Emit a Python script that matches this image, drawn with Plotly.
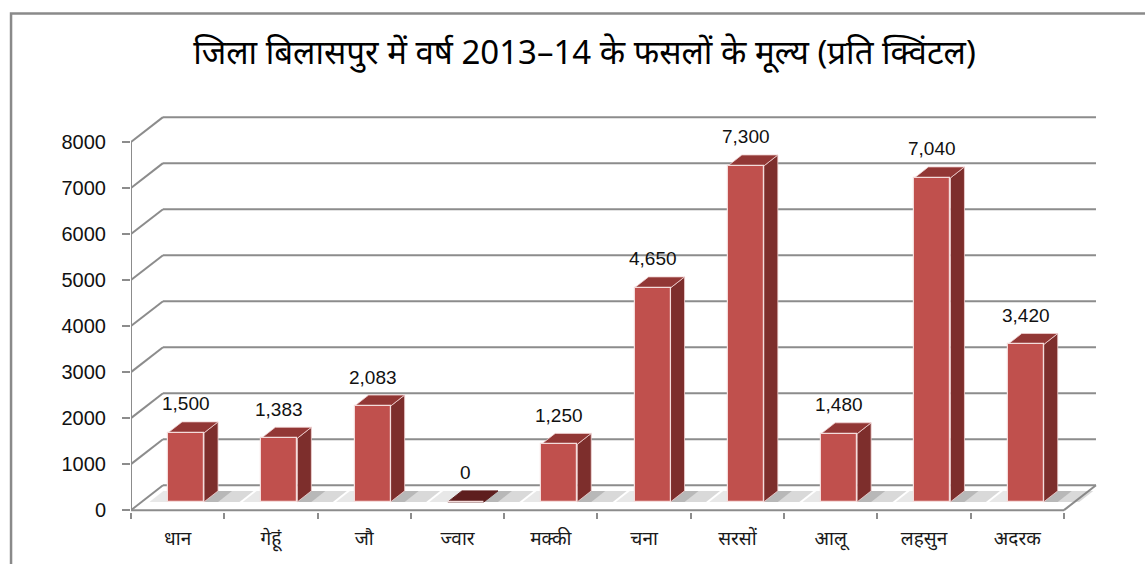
import plotly.graph_objects as go

# Crop prices, Bilaspur district, 2013-14 (Rs per quintal)
CATEGORIES = ["धान", "गेहूं", "जौ", "ज्वार", "मक्की", "चना", "सरसों", "आलू", "लहसुन", "अदरक"]
VALUES = [1500, 1383, 2083, 0, 1250, 4650, 7300, 1480, 7040, 3420]
Y_TICKS = [0, 1000, 2000, 3000, 4000, 5000, 6000, 7000, 8000]
TITLE = "जिला बिलासपुर में वर्ष 2013–14 के फसलों के मूल्य (प्रति क्विंटल)"

# pseudo-3D geometry, in axis units
WALL_DX, WALL_DY = 0.343, 540      # depth of floor / side wall
BAR_BASE = 180                     # bar front plane sits a little behind the front edge
BAR_OFF, BAR_W = -0.103, 0.386     # front face position relative to category centre
SIDE_DX, SIDE_DY = 0.15, 238       # bar depth

FRONT = "#C0504D"
SIDE = "#7D2E2C"
TOP = "#923735"
TOP_ZERO = "#5E1E1E"
GRID = "#8C8C8C"

x_pos = list(range(len(CATEGORIES)))
n = len(CATEGORIES)
x_left, x_right = -0.5, n - 0.5

fig = go.Figure()

shapes = []


def poly(pts):
    return "M " + " L ".join(f"{x},{y}" for x, y in pts) + " Z"


# back-wall gridlines with their slanted run along the left wall
for v in Y_TICKS:
    shapes.append(dict(type="line", xref="x", yref="y", layer="below",
                       x0=x_left, y0=v, x1=x_left + WALL_DX, y1=v + WALL_DY,
                       line=dict(color=GRID, width=2)))
    shapes.append(dict(type="line", xref="x", yref="y", layer="below",
                       x0=x_left + WALL_DX, y0=v + WALL_DY, x1=x_right + WALL_DX, y1=v + WALL_DY,
                       line=dict(color=GRID, width=2)))

# floor front and right edges, left front vertical axis
shapes.append(dict(type="line", xref="x", yref="y", layer="below",
                   x0=x_left, y0=0, x1=x_right, y1=0, line=dict(color=GRID, width=2)))
shapes.append(dict(type="line", xref="x", yref="y", layer="below",
                   x0=x_right, y0=0, x1=x_right + WALL_DX, y1=WALL_DY, line=dict(color=GRID, width=2)))
shapes.append(dict(type="line", xref="x", yref="y", layer="below",
                   x0=x_left, y0=0, x1=x_left, y1=Y_TICKS[-1], line=dict(color=GRID, width=2)))

# soft floor shadows around each bar foot
for i in x_pos:
    xl = i + BAR_OFF
    xr = xl + BAR_W
    shapes.append(dict(type="path", xref="x", yref="y", layer="below", line=dict(width=0),
                       fillcolor="rgba(150,150,150,0.22)",
                       path=poly([(xl - 0.2, BAR_BASE), (xl, BAR_BASE),
                                  (xl + SIDE_DX, BAR_BASE + SIDE_DY), (xl - 0.2 + SIDE_DX, BAR_BASE + SIDE_DY)])))
    shapes.append(dict(type="path", xref="x", yref="y", layer="below", line=dict(width=0),
                       fillcolor="rgba(130,130,130,0.30)",
                       path=poly([(xr, BAR_BASE), (xr + 0.38, BAR_BASE),
                                  (xr + 0.38 + SIDE_DX, BAR_BASE + SIDE_DY), (xr + SIDE_DX, BAR_BASE + SIDE_DY)])))
    shapes.append(dict(type="path", xref="x", yref="y", layer="below", line=dict(width=0),
                       fillcolor="rgba(110,110,110,0.30)",
                       path=poly([(xr, BAR_BASE), (xr + 0.15, BAR_BASE),
                                  (xr + 0.15 + SIDE_DX, BAR_BASE + SIDE_DY), (xr + SIDE_DX, BAR_BASE + SIDE_DY)])))

# bar side and top faces
for i, v in zip(x_pos, VALUES):
    xl = i + BAR_OFF
    xr = xl + BAR_W
    top = BAR_BASE + v
    if v > 0:
        shapes.append(dict(type="path", xref="x", yref="y", layer="below",
                           fillcolor=SIDE, line=dict(color="rgba(240,210,210,0.8)", width=1),
                           path=poly([(xr, BAR_BASE), (xr + SIDE_DX, BAR_BASE + SIDE_DY),
                                      (xr + SIDE_DX, top + SIDE_DY), (xr, top)])))
    shapes.append(dict(type="path", xref="x", yref="y", layer="below",
                       fillcolor=TOP if v > 0 else TOP_ZERO,
                       line=dict(color="rgba(240,210,210,0.8)" if v > 0 else TOP_ZERO, width=1),
                       path=poly([(xl, top), (xr, top), (xr + SIDE_DX, top + SIDE_DY),
                                  (xl + SIDE_DX, top + SIDE_DY)])))

# front faces
fig.add_trace(go.Bar(
    x=x_pos, y=VALUES, base=BAR_BASE, offset=BAR_OFF, width=BAR_W,
    marker=dict(color=FRONT, line=dict(color="#F4DCDB", width=1.2)),
    hoverinfo="skip", showlegend=False,
))

# invisible trace that carries the boundary tick axis
fig.add_trace(go.Scatter(x=[None], y=[None], xaxis="x2", yaxis="y", showlegend=False,
                         hoverinfo="skip"))

annotations = []
for i, v in zip(x_pos, VALUES):
    annotations.append(dict(
        x=i + BAR_OFF + BAR_W / 2, y=BAR_BASE + v + SIDE_DY, xref="x", yref="y",
        text=f"{v:,}", showarrow=False, yanchor="middle", yshift=18,
        font=dict(family="Liberation Sans, Arial, sans-serif", size=19, color="#111111"),
    ))

# outer chart frame
shapes.append(dict(type="rect", xref="paper", yref="paper", layer="above",
                   x0=-0.1238, y0=-0.15, x1=1.06, y1=1.2401,
                   line=dict(color="#8A8A8A", width=2.5), fillcolor="rgba(0,0,0,0)"))

fig.update_layout(
    width=1145, height=564,
    margin=dict(l=131, r=45, t=110, b=50),
    paper_bgcolor="white", plot_bgcolor="white",
    title=dict(text=TITLE, x=0.5105, xanchor="center", y=0.9078, yanchor="middle",
               font=dict(family="Noto Sans, Liberation Sans, sans-serif", size=33, color="#000000")),
    xaxis=dict(range=[-0.5, 9.886], tickvals=x_pos, ticktext=CATEGORIES, ticks="",
               showgrid=False, zeroline=False, showline=False, ticklabelstandoff=13,
               tickfont=dict(family="Noto Sans, Liberation Sans, sans-serif", size=19, color="#1a1a1a")),
    xaxis2=dict(range=[-0.5, 9.886], overlaying="x", anchor="y", side="bottom",
                tickvals=[i - 0.5 for i in range(n + 1)], showticklabels=False,
                ticks="outside", ticklen=6, tickwidth=2, tickcolor=GRID,
                showgrid=False, zeroline=False, showline=False),
    yaxis=dict(range=[-40, 8695], tickvals=Y_TICKS, ticktext=[str(t) for t in Y_TICKS],
               ticks="outside", ticklen=8, tickwidth=2, tickcolor=GRID,
               showgrid=False, zeroline=False, showline=False, ticklabelstandoff=12,
               tickfont=dict(family="Liberation Sans, Arial, sans-serif", size=20, color="#111111")),
    shapes=shapes,
    annotations=annotations,
    bargap=0,
)

fig.write_html("out.html")
